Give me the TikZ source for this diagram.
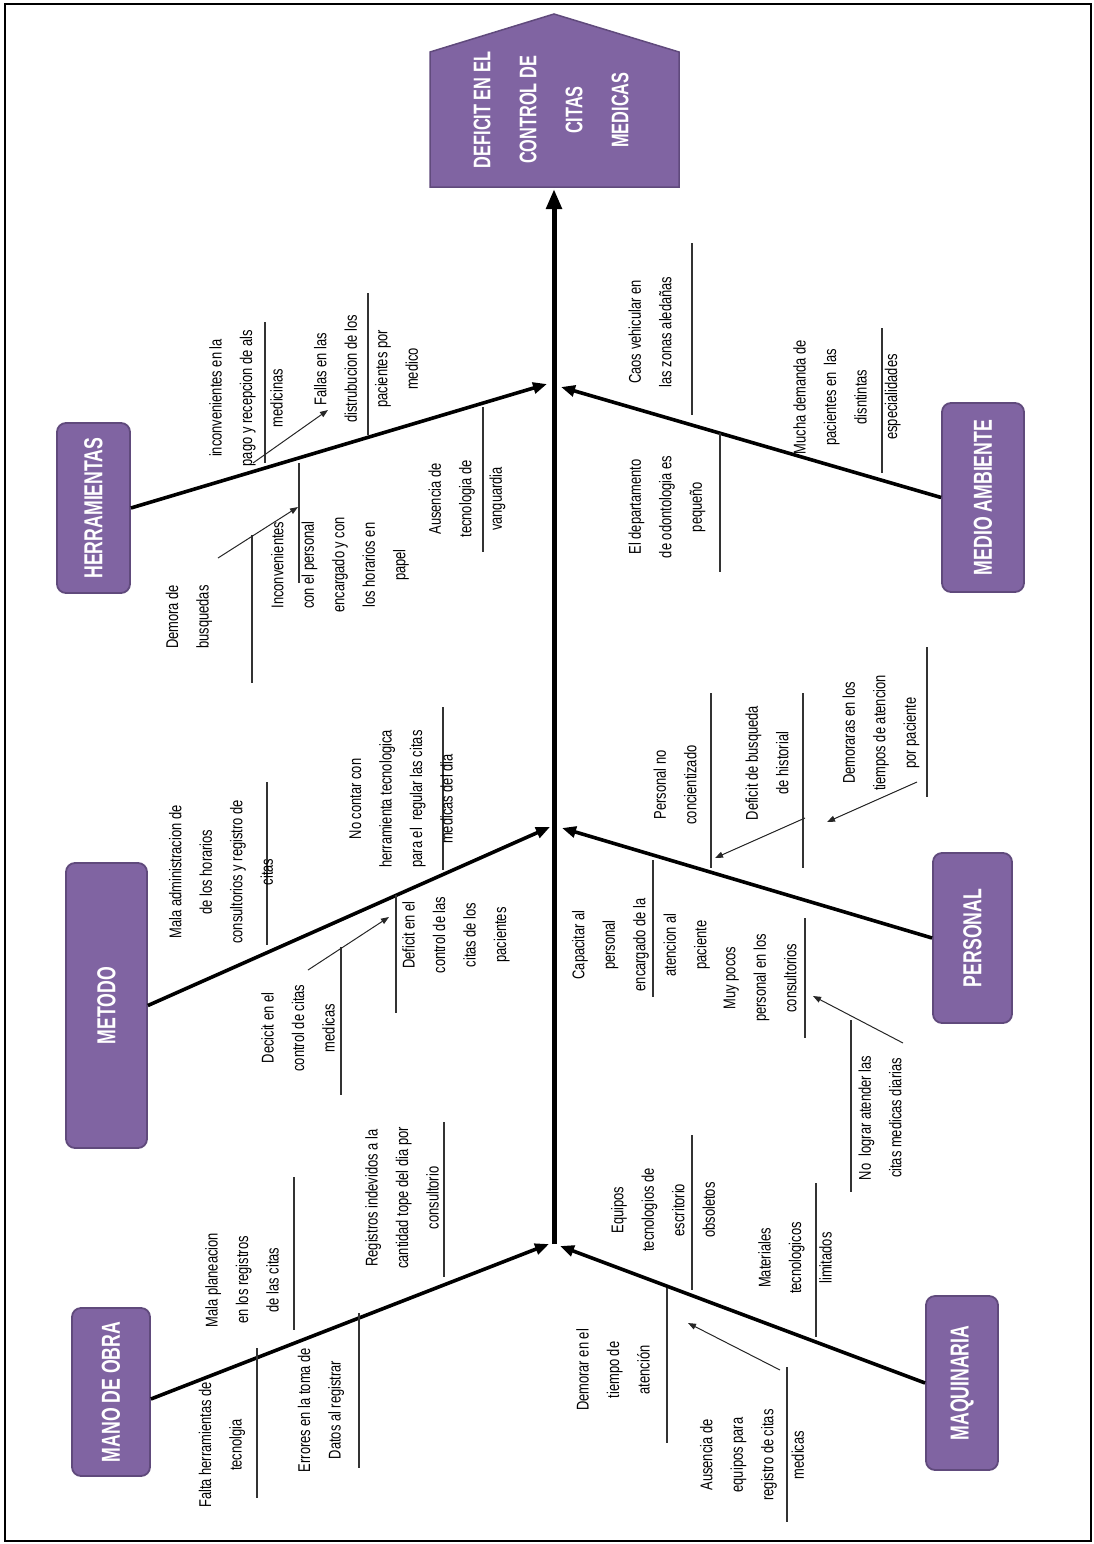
\documentclass[tikz,border=0pt]{standalone}
\usepackage{fontspec}
\usepackage{graphicx}
\setmainfont{Liberation Sans}[FakeStretch=0.76]
\newfontfamily\headfont{Liberation Sans}[FakeStretch=0.68]
\usetikzlibrary{arrows.meta}
\definecolor{boxfill}{RGB}{128,100,162}
\definecolor{boxline}{RGB}{96,74,124}

\tikzset{
  causetext/.style={rotate=90, align=center, inner sep=0pt,
    font=\fontsize{17}{30.5}\selectfont},
  subbone/.style={line width=1.6pt, black!80},
  bone/.style={line width=3.6pt, -{Triangle[length=14pt,width=11pt]}},
  pointer/.style={line width=1pt, black!85, -{Triangle[length=8pt,width=6pt]}},
  catbox/.style={draw=boxline, line width=1.8pt, fill=boxfill,
    rounded corners=9pt, inner sep=0pt},
  cattext/.style={rotate=90, text=white, inner sep=0pt,
    font=\headfont\bfseries\fontsize{26}{30}\selectfont},
  headtext/.style={rotate=90, text=white, align=center, inner sep=0pt,
    font=\headfont\bfseries\fontsize{24}{46}\selectfont},
}

\begin{document}
\begin{tikzpicture}[x=1pt, y=-1pt]
\useasboundingbox (0,0) rectangle (1094,1544);
\draw[line width=1.5pt] (5,4) rectangle (1091,1541);

% effect (head of the fish)
\draw[draw=boxline, fill=boxfill, line width=1.5pt]
  (430,187) -- (430,52) -- (554,14) -- (679,52) -- (679,187) -- cycle;
\node[headtext] (effect) at (551,110) {DEFICIT EN EL\\CONTROL DE\\CITAS\\MEDICAS};

% spine
\coordinate (spineBot) at (554,1244);
\coordinate (headBase) at (554,189);
\draw[line width=5pt, -{Triangle[length=20pt,width=15pt]}] (spineBot) -- (headBase);

% category boxes
\node[catbox, minimum width=73pt, minimum height=170pt] (herr) at (93.5,508) {};
\node[cattext] (herrT) at (herr) {HERRAMIENTAS};
\node[catbox, minimum width=82pt, minimum height=189pt] (medio) at (983,497.5) {};
\node[cattext] (medioT) at (medio) {MEDIO AMBIENTE};
\node[catbox, minimum width=81pt, minimum height=285pt] (met) at (106.5,1005.5) {};
\node[cattext] (metT) at (met) {METODO};
\node[catbox, minimum width=79pt, minimum height=170pt] (pers) at (972.5,938) {};
\node[cattext] (persT) at (pers) {PERSONAL};
\node[catbox, minimum width=78pt, minimum height=168pt] (mano) at (111,1392) {};
\node[cattext] (manoT) at (mano) {MANO DE OBRA};
\node[catbox, minimum width=72pt, minimum height=174pt] (maq) at (962,1383) {};
\node[cattext] (maqT) at (maq) {MAQUINARIA};

% main bones
\coordinate (tHerr) at (547,384);
\coordinate (tMedio) at (561,387);
\coordinate (tMet) at (550,827);
\coordinate (tPers) at (562,828);
\coordinate (tMano) at (549,1244);
\coordinate (tMaq) at (560,1246);
\draw[bone] (herr.east) -- (tHerr);
\draw[bone] (medio.west) -- (tMedio);
\draw[bone] (met.east) -- (tMet);
\draw[bone] (pers.west) -- (tPers);
\draw[bone] ([yshift=-7pt]mano.east) -- (tMano);
\draw[bone] (maq.west) -- (tMaq);

% secondary bones
\foreach \x/\a/\b in {
  265/322/463, 368/293/435, 252/535/683, 299/463/583, 483/407/552,
  692/243/415, 720/433/572, 882/328/473,
  267/782/945, 443/707/870, 341/947/1095, 396/895/1013,
  711/693/868, 803/693/868, 927/647/797, 653/860/997, 805/918/1038, 851/1020/1192,
  294/1177/1330, 444/1122/1277, 257/1348/1498, 359/1313/1468,
  692/1135/1290, 816/1183/1337, 667/1288/1443, 787/1367/1522}
  \draw[subbone] (\x,\a) -- (\x,\b);

% small pointers between causes
\coordinate (pa1) at (253,463); \coordinate (pb1) at (328,410);
\coordinate (pa2) at (218,558); \coordinate (pb2) at (298,507);
\coordinate (pa3) at (308,970); \coordinate (pb3) at (389,917);
\coordinate (pa4) at (805,818); \coordinate (pb4) at (715,858);
\coordinate (pa5) at (917,782); \coordinate (pb5) at (827,822);
\coordinate (pa6) at (903,1043); \coordinate (pb6) at (813,996);
\coordinate (pa7) at (780,1370); \coordinate (pb7) at (688,1323);
\foreach \i in {1,...,7} \draw[pointer] (pa\i) -- (pb\i);

% causes: herramientas
\node[causetext] (h1) at (246,398) {inconvenientes en la\\pago y recepcion de als\\medicinas};
\node[causetext] (h2) at (366,369) {Fallas en las\\distrubucion de los\\pacientes por\\medico};
\node[causetext] (h3) at (189,617) {Demora de\\busquedas};
\node[causetext] (h4) at (340,565) {Inconvenientes\\con el personal\\encargado y con\\los horarios en\\papel};
\node[causetext] (h5) at (467,499) {Ausencia de\\tecnologia de\\vanguardia};

% causes: medio ambiente
\node[causetext] (ma1) at (650,332) {Caos vehicular en\\las zonas aledañas};
\node[causetext] (ma2) at (667,507) {El departamento\\de odontologia es\\pequeño};
\node[causetext] (ma3) at (847,397) {Mucha demanda de\\pacientes en\ \ las\\disntintas\\especialidades};

% causes: metodo
\node[causetext] (m1) at (221,872) {Mala administracion de\\de los horarios\\consultorios y registro de\\citas};
\node[causetext] (m2) at (401,799) {No contar con\\herramienta tecnologica\\para el\ \ regular las citas\\medicas del dia};
\node[causetext] (m3) at (298,1028) {Decicit en el\\control de citas\\medicas};
\node[causetext] (m4) at (456,935) {Deficit en el\\control de las\\citas de los\\pacientes};

% causes: personal
\node[causetext] (p1) at (675,785) {Personal no\\concientizado};
\node[causetext] (p2) at (767,763) {Deficit de busqueda\\de historial};
\node[causetext] (p3) at (881,733) {Demoraras en los\\tiempos de atencion\\por paciente};
\node[causetext] (p4) at (641,945) {Capacitar al\\personal\\encargado de la\\atencion al\\paciente};
\node[causetext] (p5) at (760,978) {Muy pocos\\personal en los\\consultorios};
\node[causetext] (p6) at (880,1118) {No\ \ lograr atender las\\citas medicas diarias};

% causes: mano de obra
\node[causetext] (mo1) at (242,1280) {Mala planeacion\\en los registros\\de las citas};
\node[causetext] (mo2) at (402,1198) {Registros indevidos a la\\cantidad tope del dia por\\consultorio};
\node[causetext] (mo3) at (222,1445) {Falta herramientas de\\tecnolgia};
\node[causetext] (mo4) at (321,1410) {Errores en la toma de\\Datos al registrar};

% causes: maquinaria
\node[causetext] (q1) at (663,1210) {Equipos\\tecnologios de\\escritorio\\obsoletos};
\node[causetext] (q2) at (795,1258) {Materiales\\tecnologicos\\limitados};
\node[causetext] (q3) at (613,1370) {Demorar en el\\tiempo de\\atención};
\node[causetext] (q4) at (752,1455) {Ausencia de\\equipos para\\registro de citas\\medicas};
\end{tikzpicture}
\end{document}
